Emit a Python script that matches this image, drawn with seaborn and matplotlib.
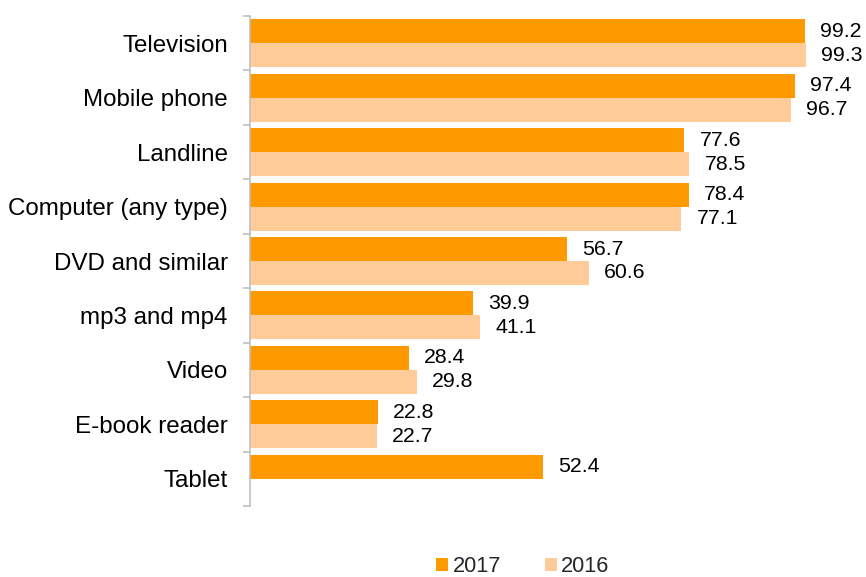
import numpy as np
import pandas as pd
import matplotlib
matplotlib.use("Agg")
import matplotlib.pyplot as plt
from matplotlib.patches import Patch
import seaborn as sns

categories = ["Television", "Mobile phone", "Landline", "Computer (any type)",
              "DVD and similar", "mp3 and mp4", "Video", "E-book reader", "Tablet"]
values_2017 = [99.2, 97.4, 77.6, 78.4, 56.7, 39.9, 28.4, 22.8, 52.4]
values_2016 = [99.3, 96.7, 78.5, 77.1, 60.6, 41.1, 29.8, 22.7, np.nan]
years = ["2017", "2016"]
colors = {"2017": "#FF9900", "2016": "#FFCC99"}

df = pd.DataFrame({
    "device": categories * 2,
    "year": ["2017"] * len(categories) + ["2016"] * len(categories),
    "share": values_2017 + values_2016,
})

sns.set_style("white")
plt.rcParams["font.family"] = ["Liberation Sans", "DejaVu Sans"]

fig = plt.figure(figsize=(8.66, 5.77), dpi=100)
ax = fig.add_axes([250 / 866, 1 - 506 / 577, 615.5 / 866, 490 / 577])

sns.barplot(data=df, y="device", x="share", hue="year", order=categories,
            hue_order=years, palette=colors, orient="h", width=0.88,
            saturation=1, ax=ax, legend=False, linewidth=0)

ax.set_xlim(0, 110)
ax.set_ylim(len(categories) - 0.5, -0.5)

for cont in ax.containers:
    ax.bar_label(cont, fmt="%.1f", padding=11, fontsize=15.3, color="#000000",
                 clip_on=False)

# axis styling: only the left spine, ticks between categories
for side in ["top", "right", "bottom"]:
    ax.spines[side].set_visible(False)
ax.spines["left"].set_color("#BFBFBF")
ax.spines["left"].set_linewidth(1.2)
ax.set_xticks([])
ax.set_xlabel("")
ax.set_ylabel("")
ax.set_yticks(np.arange(len(categories)))
ax.set_yticklabels(categories, fontsize=17.4, color="#000000")
ax.set_yticks(np.arange(len(categories) + 1) - 0.5, minor=True)
ax.tick_params(axis="y", which="major", length=0, pad=16)
ax.tick_params(axis="y", which="minor", length=5, width=1.2, color="#BFBFBF",
               left=True)

handles = [Patch(facecolor=colors[y], edgecolor="none", label=y) for y in years]
fig.legend(handles=handles, loc="center", bbox_to_anchor=(523 / 866, 1 - 567 / 577),
           ncol=2, frameon=False, fontsize=15.7, handlelength=0.55, handleheight=0.55,
           handletextpad=0.2, columnspacing=2.0)

fig.savefig("out.png", dpi=100)
